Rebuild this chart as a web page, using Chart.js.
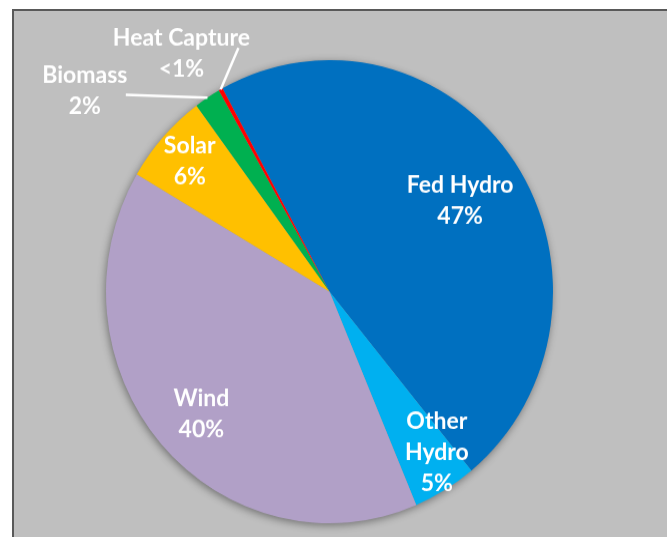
<!DOCTYPE html>
<html lang="en">
<head>
  <meta charset="UTF-8">
  <title>Generation Mix</title>
  <style>
    html, body { margin: 0; padding: 0; width: 667px; height: 537px; overflow: hidden; background: #fff; }
    .frame { position: absolute; left: 12px; top: 9px; right: 0; bottom: 0; background: #bfbfbf; border-left: 2px solid #595959; border-top: 2px solid #595959; }
    #mixChart { position: absolute; left: 0; top: 0; transform: scaleY(1.036); transform-origin: 0 0; }
  </style>
</head>
<body>
  <div class="frame"></div>
  <canvas id="mixChart" width="667" height="537"></canvas>
  <script src="https://cdn.jsdelivr.net/npm/chart.js"></script>
  <script>
    const sources = ['Fed Hydro', 'Other Hydro', 'Wind', 'Solar', 'Biomass', 'Heat Capture'];
    const shares = [47.0, 4.6, 39.8, 6.4, 1.9, 0.3];
    const colors = ['#0070c0', '#00b0f0', '#b1a0c7', '#ffc000', '#00b050', '#ff0000'];

    // where each label sits: fraction of radius, angle nudge (deg), wrap, leader end offset
    const labelPlace = {
      'Fed Hydro':    { r: 0.705, shift: 0 },
      'Other Hydro':  { r: 0.843, shift: -3.6, wrap: true },
      'Wind':         { r: 0.779, shift: -1.4 },
      'Solar':        { r: 0.841, shift: 0 },
      'Biomass':      { r: 1.397, shift: -18.5, lead: [41, 4] },
      'Heat Capture': { r: 1.225, shift: -3.6, lead: [57, -5] }
    };

    function pctText(v) {
      return v < 1 ? '<1%' : Math.round(v) + '%';
    }

    const sliceLabels = {
      id: 'sliceLabels',
      beforeDatasetsDraw(chart) {
        // soft shadow under the whole pie
        const arc = chart.getDatasetMeta(0).data[0];
        const ctx = chart.ctx;
        ctx.save();
        ctx.shadowColor = 'rgba(0,0,0,0.45)';
        ctx.shadowBlur = 9;
        ctx.shadowOffsetX = -1;
        ctx.shadowOffsetY = 2;
        ctx.fillStyle = '#9a9a9a';
        ctx.beginPath();
        ctx.arc(arc.x, arc.y, arc.outerRadius - 0.5, 0, Math.PI * 2);
        ctx.fill();
        ctx.restore();
      },
      afterDatasetsDraw(chart) {
        const ctx = chart.ctx;
        const arcs = chart.getDatasetMeta(0).data;
        ctx.save();
        ctx.fillStyle = '#fff';
        ctx.strokeStyle = '#fff';
        ctx.font = 'bold 23px Lato';
        ctx.textAlign = 'center';
        ctx.textBaseline = 'middle';
        const lineH = 30;
        arcs.forEach((arc, i) => {
          const name = sources[i];
          const p = labelPlace[name];
          const mid = (arc.startAngle + arc.endAngle) / 2;
          const a = mid + p.shift * Math.PI / 180;
          const R = arc.outerRadius;
          const cx = arc.x + Math.cos(a) * R * p.r;
          const cy = arc.y + Math.sin(a) * R * p.r;
          const lines = (p.wrap ? name.split(' ') : [name]).concat(pctText(shares[i]));
          const top = cy - (lines.length - 1) * lineH / 2;
          lines.forEach((t, k) => ctx.fillText(t, cx, top + k * lineH));
          if (p.lead) {
            ctx.lineWidth = 2.5;
            ctx.beginPath();
            ctx.moveTo(arc.x + Math.cos(mid) * R, arc.y + Math.sin(mid) * R);
            ctx.lineTo(cx + p.lead[0], cy + p.lead[1]);
            ctx.stroke();
          }
        });
        ctx.restore();
      }
    };

    new Chart(document.getElementById('mixChart'), {
      type: 'pie',
      data: {
        labels: sources,
        datasets: [{ data: shares, backgroundColor: colors, borderWidth: 0 }]
      },
      options: {
        responsive: false,
        animation: false,
        rotation: -28.6,
        layout: { padding: { left: 106, right: 114, top: 58, bottom: 32 } },
        plugins: { legend: { display: false }, tooltip: { enabled: false } }
      },
      plugins: [sliceLabels]
    });
  </script>
</body>
</html>
